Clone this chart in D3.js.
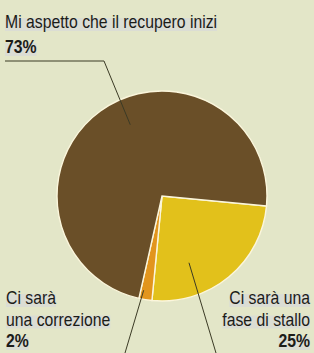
<!DOCTYPE html>
<html>
<head>
<meta charset="utf-8">
<script src="https://cdn.jsdelivr.net/npm/d3@7"></script>
<style>
  body { margin: 0; background: #e3e6c8; }
  svg { display: block; }
  text { font-family: "Liberation Sans Narrow", "Arial Narrow", "Liberation Sans", sans-serif; fill: #1c1c18; }
</style>
</head>
<body>
<div id="chart"></div>
<script>
var categories = ["Ci sarà una fase di stallo", "Ci sarà una correzione", "Mi aspetto che il recupero inizi"];
var values = [25, 2, 73];
var colors = ["#e2c11b", "#e2951d", "#6a4f28"];

var width = 314, height = 353;
var cx = 162, cy = 196, radius = 105;

var svg = d3.select("#chart")
  .append("svg")
    .attr("width", width)
    .attr("height", height);

svg.append("rect")
  .attr("width", width)
  .attr("height", height)
  .attr("fill", "#e3e6c8");

var pie = d3.pie()
  .sort(null)
  .value(function(d) { return d; })
  .startAngle(95.5 * Math.PI / 180)
  .endAngle((95.5 + 360) * Math.PI / 180);

var arc = d3.arc().innerRadius(0).outerRadius(radius);

var g = svg.append("g")
  .attr("transform", "translate(" + cx + "," + cy + ")");

var arcs = pie(values);

g.selectAll("path")
  .data(arcs)
  .enter()
  .append("path")
    .attr("d", arc)
    .attr("fill", function(d, i) { return colors[i]; })
    .attr("stroke", "#fbf6dc")
    .attr("stroke-width", 1.4);

// leader lines: point inside slice -> label
function inner(angDeg, r) {
  var a = angDeg * Math.PI / 180;
  return [cx + r * Math.sin(a), cy - r * Math.cos(a)];
}
var leaders = [
  [inner(158, 72), [216, 353]],
  [inner(191, 96), [125, 353]],
  [inner(336, 78), [104, 61], [5, 61]]
];

svg.selectAll(".leader")
  .data(leaders)
  .enter()
  .append("path")
    .attr("class", "leader")
    .attr("d", d3.line())
    .attr("fill", "none")
    .attr("stroke", "#3b3a25")
    .attr("stroke-width", 1);

// labels
var labels = [
  {lines: ["Mi aspetto che il recupero inizi"], pct: "73%", x: 5, y: 28, anchor: "start"},
  {lines: ["Ci sarà", "una correzione"], pct: "2%", x: 6, y: 304, anchor: "start"},
  {lines: ["Ci sarà una", "fase di stallo"], pct: "25%", x: 310, y: 304, anchor: "end"}
];
var lineGap = [25, 21.5, 21.5];
var squeeze = 0.83; // the original face is condensed

labels.forEach(function(l, k) {
  var rows = l.lines.map(function(t) { return {t: t, bold: false}; });
  rows.push({t: l.pct, bold: true});
  rows.forEach(function(r, j) {
    var y = l.y + j * lineGap[k];
    var hl = svg.append("rect").attr("fill", "#dbddd4");
    var t = svg.append("text")
      .attr("x", l.x)
      .attr("y", y)
      .attr("text-anchor", l.anchor)
      .attr("font-size", 19)
      .attr("font-weight", r.bold ? "bold" : "normal")
      .text(r.t);
    var len = t.node().getComputedTextLength();
    t.attr("textLength", len * squeeze).attr("lengthAdjust", "spacingAndGlyphs");
    var w = len * squeeze;
    var x0 = l.anchor === "end" ? l.x - w : l.x;
    hl.attr("x", x0).attr("y", y - 10).attr("width", w).attr("height", 13);
  });
});
</script>
</body>
</html>
